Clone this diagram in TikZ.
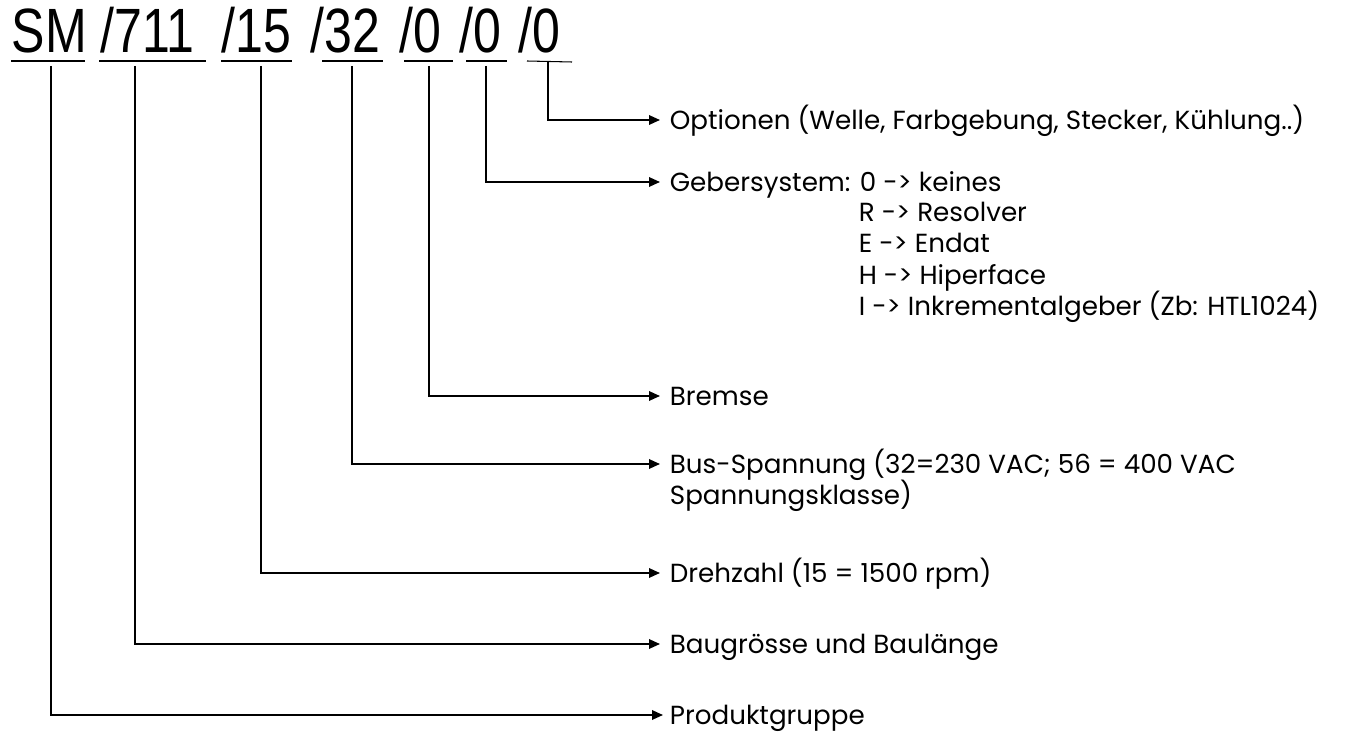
\documentclass[tikz,border=0pt]{standalone}
\usepackage{fontspec}
\setmainfont{Poppins}
\newfontfamily\headfont{Liberation Sans}
\usetikzlibrary{arrows.meta}
\begin{document}
\begin{tikzpicture}[x=0.02cm,y=-0.02cm,>={Triangle[length=0.22cm,width=0.19cm]},line width=1pt,
	head/.style={anchor=base west,inner sep=0pt,font=\headfont\fontsize{28.5}{30}\selectfont},
	lab/.style={anchor=west,inner xsep=0.18cm,inner ysep=0pt,text height=10.4pt,text depth=0pt,font=\fontsize{14.9}{17}\selectfont},
	sub/.style={anchor=base west,inner sep=0pt,font=\fontsize{14.9}{17}\selectfont}]
	\useasboundingbox (0,0) rectangle (1350,733);
	% Typenschluessel
	\node[head] (sm) at (11,53) {\scalebox{1}[1.25]{SM}};
	\node[head] (bg) at (100,53) {\scalebox{1}[1.25]{/711}};
	\node[head] (dz) at (221,53) {\scalebox{1}[1.25]{/15}};
	\node[head] (bs) at (310,53) {\scalebox{1}[1.25]{/32}};
	\node[head] (br) at (399,53) {\scalebox{1}[1.25]{/0}};
	\node[head] (gs) at (459,53) {\scalebox{1}[1.25]{/0}};
	\node[head] (op) at (518,53) {\scalebox{1}[1.25]{/0}};
	\foreach \a/\b in {11/85,99/206,221/292,322/383,404/453,466/507}
	\draw (\a,61)--(\b,61);
	\draw[line width=0.6pt] (527,61)--(572,62);
	\path
	(51,66) coordinate (fa)
	(135,66) coordinate (fb)
	(261,66) coordinate (fc)
	(352,66) coordinate (fd)
	(429,66) coordinate (fe)
	(486,66) coordinate (ff)
	(548,62) coordinate (fg)
	;
	% Beschriftungen
	\node[lab] (opt) at (660,120) {Optionen (Welle, Farbgebung, Stecker, Kühlung..)};
	\node[lab] (geb) at (660,182) {Gebersystem: 0 -> keines};
	\node[sub] (gr) at (858,222) {R -> Resolver};
	\node[sub] (ge) at (858,253) {E -> Endat};
	\node[sub] (gh) at (858,285) {H -> Hiperface};
	\node[sub] (gi) at (858,316) {I -> Inkrementalgeber (Zb: HTL1024)};
	\node[lab] (brm) at (660,396) {Bremse};
	\node[lab] (bus) at (660,464) {Bus-Spannung (32=230 VAC; 56 = 400 VAC};
	\node[sub] (bk) at (669,504) {Spannungsklasse)};
	\node[lab] (drz) at (660,573) {Drehzahl (15 = 1500 rpm)};
	\node[lab] (bau) at (660,644) {Baugrösse und Baulänge};
	\node[lab,inner xsep=0.12cm] (prd) at (663,715) {Produktgruppe};
	\foreach \f/\l in {fg/opt,ff/geb,fe/brm,fd/bus,fc/drz,fb/bau,fa/prd}
	\draw[->] (\f)|-(\l.west);
\end{tikzpicture}
\end{document}
